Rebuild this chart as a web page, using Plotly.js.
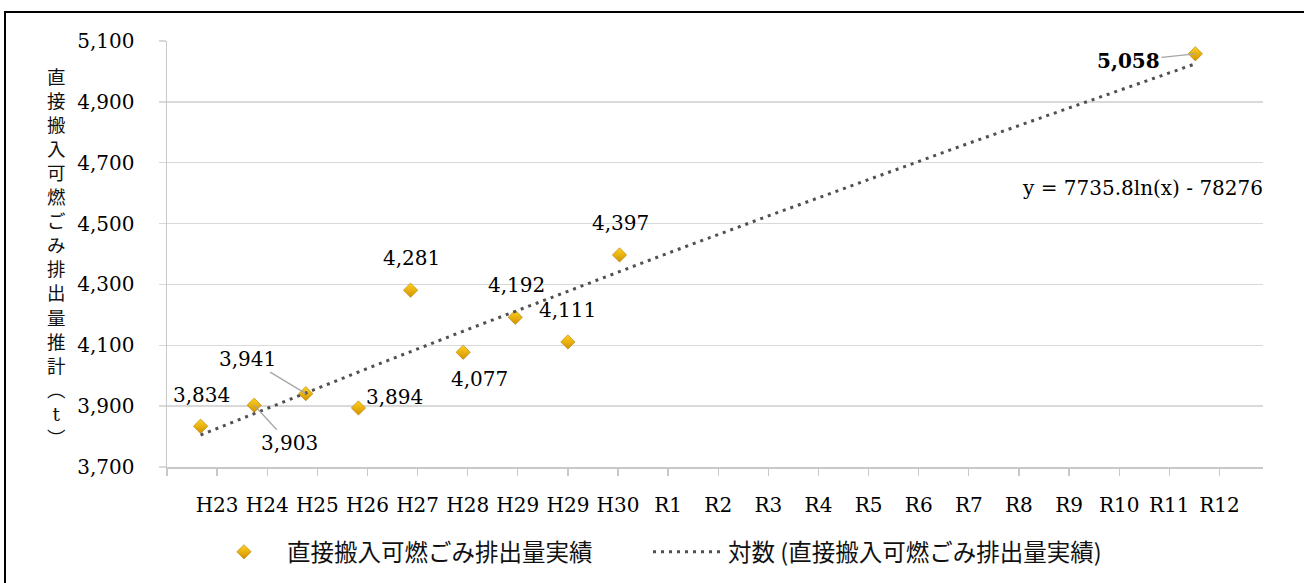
<!DOCTYPE html>
<html><head><meta charset="utf-8">
<script src="https://cdn.plot.ly/plotly-3.0.1.min.js"></script>
<style>
body{margin:0;}
#wrap{position:relative;width:1304px;height:583px;overflow:hidden;background:#fff}
#frame{position:absolute;left:4px;top:11px;width:1400px;height:700px;border:2px solid #000;pointer-events:none}
#chart{position:absolute;left:0;top:0;width:1304px;height:583px}
</style>
</head><body><div id="wrap"><div id="chart"></div><div id="frame"></div></div>
<script>
// ---- data ----
const categories = ['H23','H24','H25','H26','H27','H28','H29','H29','H30','R1','R2','R3','R4','R5','R6','R7','R8','R9','R10','R11','R12'];
const actualX = [0.67,1.74,2.77,3.82,4.86,5.91,6.95,8.0,9.03,20.52];
const actualY = [3834,3903,3941,3894,4281,4077,4192,4111,4397,5058];
const trendX = [0.67,2,4,6,8,10,12,14,16,18,20.52];
const trendY = [3805,3893,4024,4152,4278,4403,4525,4645,4764,4880,5025];
const seriesName = '直接搬入可燃ごみ排出量実績';
const trendName = '対数 (直接搬入可燃ごみ排出量実績)';
const equation = 'y = 7735.8ln(x) - 78276';
const yTitleChars = ['直','接','搬','入','可','燃','ご','み','排','出','量','推','計','︵','t','︶'];

// ---- layout helpers ----
const W = 1304, H = 583;
const M = {l:167, r:41, t:41, b:116};
const PW = W - M.l - M.r, PH = H - M.t - M.b;
const px = x => (x - M.l) / PW;
const py = y => (H - M.b - y) / PH;
const serif = 'DejaVu Serif';
const cjk = 'Noto Sans CJK JP';

// label offsets (pixels) and leader flags, per point
const labelOffsets = [[1,-31],[35,38],[-58,-35],[36,-11],[1,-32],[16,27],[1,-32],[0,-32],[1,-32],[-67,7]];
const leaders = [false,true,true,false,false,false,false,false,false,true];

const fmt = v => v.toLocaleString('en-US');

const annotations = [];
actualY.forEach((v, i) => {
  const [ox, oy] = labelOffsets[i];
  const bold = i === actualY.length - 1;
  const a = {
    x: actualX[i], y: v, xref: 'x', yref: 'y',
    xanchor: 'center', yanchor: 'middle',
    text: bold ? '<b>' + fmt(v) + '</b>' : fmt(v),
    font: {family: serif, size: 20, color: '#000'}
  };
  if (leaders[i]) {
    Object.assign(a, {showarrow: true, ax: ox, ay: oy, arrowhead: 0, arrowwidth: 1.3,
      arrowcolor: '#a6a6a6', standoff: 0});
  } else {
    Object.assign(a, {showarrow: false, xshift: ox, yshift: -oy});
  }
  annotations.push(a);
});

annotations.push({
  xref: 'paper', yref: 'paper', x: px(1142), y: py(188), text: equation,
  xanchor: 'center', yanchor: 'middle',
  showarrow: false, font: {family: serif, size: 20, color: '#000'}
});

// vertical y-axis title: one text, one character per line
const titleText = yTitleChars.map(c =>
  c === 't' ? '<span style="font-family:\'DejaVu Serif\'">t</span>' : c).join('<br>');
annotations.push({
  xref: 'paper', yref: 'paper', x: px(56), y: py(256), text: titleText,
  xanchor: 'center', yanchor: 'middle', align: 'center',
  showarrow: false, font: {family: cjk, size: 18.5, color: '#111'}
});

const traces = [
  {
    type: 'scatter', mode: 'markers', name: seriesName, legend: 'legend',
    x: actualX, y: actualY,
    marker: {symbol: 'diamond', size: 11, color: '#FFD21F',
      gradient: {type: 'vertical', color: '#D39200'},
      line: {color: '#B07D00', width: 0.6}},
    cliponaxis: false
  },
  {
    type: 'scatter', mode: 'lines', name: trendName, legend: 'legend2',
    x: trendX, y: trendY, line: {color: '#505050', width: 3, dash: '3px,5px'}
  }
];

const legendCommon = {
  orientation: 'h', xref: 'container', yref: 'container',
  xanchor: 'left', y: (H - 552) / H, yanchor: 'middle',
  font: {family: cjk, size: 23.5, color: '#111'},
  itemwidth: 70, bgcolor: 'rgba(0,0,0,0)', borderwidth: 0
};

const layout = {
  width: W, height: H,
  margin: M,
  paper_bgcolor: 'rgba(0,0,0,0)', plot_bgcolor: 'rgba(0,0,0,0)',
  hovermode: false,
  xaxis: {
    range: [0, 21.87], tickmode: 'array',
    tickvals: categories.map((c, i) => i + 1).concat([0]),
    ticktext: categories.concat(['']),
    showgrid: false, zeroline: false,
    showline: true, linecolor: '#c8c8c8', linewidth: 2,
    ticks: 'outside', ticklen: 7, tickwidth: 1.3, tickcolor: '#c8c8c8',
    tickfont: {family: serif, size: 20, color: '#000'},
    ticklabelstandoff: 12, fixedrange: true
  },
  yaxis: {
    range: [3700, 5100], dtick: 200, tick0: 3700, tickformat: ',d',
    showgrid: true, gridcolor: '#d9d9d9', gridwidth: 1.3,
    zeroline: false, showline: true, linecolor: '#c8c8c8', linewidth: 1.5,
    ticks: 'outside', ticklen: 7, tickwidth: 1.3, tickcolor: '#d9d9d9',
    tickfont: {family: serif, size: 20, color: '#000'},
    ticklabelstandoff: 20, fixedrange: true
  },
  showlegend: true,
  legend: Object.assign({}, legendCommon, {x: 201 / W, itemwidth: 76}),
  legend2: Object.assign({}, legendCommon, {x: 648 / W}),
  annotations: annotations
};

Plotly.newPlot('chart', traces, layout, {displayModeBar: false, staticPlot: true});
</script>
</body></html>
